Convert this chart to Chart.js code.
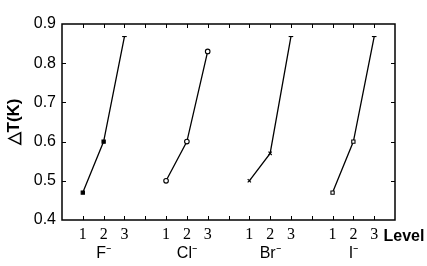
<!DOCTYPE html>
<html>
<head>
<meta charset="utf-8">
<script src="https://cdn.jsdelivr.net/npm/chart.js@4.4.1/dist/chart.umd.min.js"></script>
<style>
  html, body { margin: 0; padding: 0; background: #fff; }
  #wrap { width: 427px; height: 266px; }
</style>
</head>
<body>
<div id="wrap"><canvas id="chart"></canvas></div>
<script>
// anions, each measured at levels 1..3
const groups = ["F\u207B", "Cl\u207B", "Br\u207B", "I\u207B"];
const levels = [1, 2, 3];
const groupStart = [1, 5, 9, 13]; // x position of level 1 for each group
const fValues = [0.47, 0.60, 0.868];
const clValues = [0.50, 0.60, 0.83];
const brValues = [0.50, 0.57, 0.868];
const iValues = [0.47, 0.60, 0.868];
const yTicks = [0.4, 0.5, 0.6, 0.7, 0.8, 0.9];

const allValues = [fValues, clValues, brValues, iValues];
const markers = [
  { style: ["rect", "rect", "line"], fill: "#000" },
  { style: ["circle", "circle", "circle"], fill: "#fff" },
  { style: ["crossRot", "crossRot", "line"], fill: "#fff" },
  { style: ["rect", "rect", "line"], fill: "#fff" },
];

const datasets = allValues.map((vals, g) => ({
  label: groups[g],
  data: vals.map((v, i) => ({ x: groupStart[g] + levels[i] - 1, y: v })),
  borderColor: "#000",
  borderWidth: 1.3,
  pointStyle: markers[g].style,
  pointBackgroundColor: markers[g].fill,
  pointBorderColor: "#000",
  pointBorderWidth: 1.1,
  pointRadius: 2.3,
  tension: 0,
}));

// x positions that carry a level number
const levelPos = {};
groupStart.forEach((s) => levels.forEach((l) => (levelPos[s + l - 1] = String(l))));

const framePlugin = {
  id: "frame",
  afterDraw(chart) {
    const { ctx, chartArea: a, scales } = chart;
    ctx.save();
    ctx.strokeStyle = "#000";
    ctx.lineWidth = 1.5;
    ctx.strokeRect(a.left, a.top, a.right - a.left, a.bottom - a.top);
    ctx.lineWidth = 1;
    ctx.beginPath();
    for (let v = 1; v < 16; v++) {
      const px = Math.round(scales.x.getPixelForValue(v)) + 0.5;
      ctx.moveTo(px, a.top); ctx.lineTo(px, a.top + 4);
      ctx.moveTo(px, a.bottom); ctx.lineTo(px, a.bottom - 4);
    }
    yTicks.slice(1, -1).forEach((v) => {
      const py = Math.round(scales.y.getPixelForValue(v)) + 0.5;
      ctx.moveTo(a.left, py); ctx.lineTo(a.left + 4, py);
      ctx.moveTo(a.right, py); ctx.lineTo(a.right - 4, py);
    });
    ctx.stroke();
    ctx.fillStyle = "#000";
    ctx.textBaseline = "middle";
    ctx.textAlign = "left";
    ctx.font = "bold 16px Liberation Sans, Arial, sans-serif";
    ctx.fillText("Level", scales.x.getPixelForValue(15.45), a.bottom + 17);
    // y axis title
    ctx.translate(14, (a.top + a.bottom) / 2);
    ctx.rotate(-Math.PI / 2);
    ctx.textAlign = "center";
    ctx.font = "bold 17px Liberation Sans, Arial, sans-serif";
    ctx.fillText("\u25B3T(K)", 0, 0);
    ctx.restore();
  },
};

new Chart(document.getElementById("chart"), {
  type: "line",
  data: { datasets },
  options: {
    responsive: true,
    maintainAspectRatio: false,
    animation: false,
    layout: { padding: { top: 24, right: 32, left: 0, bottom: 0 } },
    plugins: { legend: { display: false }, tooltip: { enabled: false } },
    scales: {
      x: {
        type: "linear",
        position: "bottom",
        min: 0,
        max: 16,
        grid: { display: false, drawTicks: false },
        border: { display: false },
        afterBuildTicks: (s) => { s.ticks = Object.keys(levelPos).map((v) => ({ value: Number(v) })); },
        afterFit: (s) => { s.height = 24; },
        ticks: {
          autoSkip: false,
          maxRotation: 0,
          padding: 5,
          color: "#000",
          font: { family: "Liberation Serif, serif", size: 16 },
          callback: (v) => levelPos[v] || "",
        },
      },
      xg: {
        type: "linear",
        position: "bottom",
        min: 0,
        max: 16,
        grid: { display: false, drawTicks: false },
        border: { display: false },
        afterBuildTicks: (s) => { s.ticks = groupStart.map((v) => ({ value: v + 1 })); },
        afterFit: (s) => { s.height = 22; },
        ticks: {
          autoSkip: false,
          maxRotation: 0,
          padding: 0,
          color: "#000",
          font: { family: "Liberation Sans, Arial, sans-serif", size: 16 },
          callback: (v, i) => groups[i],
        },
      },
      y: {
        min: 0.4,
        max: 0.9,
        grid: { display: false, drawTicks: false },
        border: { display: false },
        afterBuildTicks: (s) => { s.ticks = yTicks.map((v) => ({ value: v })); },
        afterFit: (s) => { s.width = 62; },
        ticks: {
          padding: 6,
          color: "#000",
          font: { family: "Liberation Sans, Arial, sans-serif", size: 16 },
          callback: (v) => Number(v).toFixed(1),
        },
      },
    },
  },
  plugins: [framePlugin],
});
</script>
</body>
</html>
